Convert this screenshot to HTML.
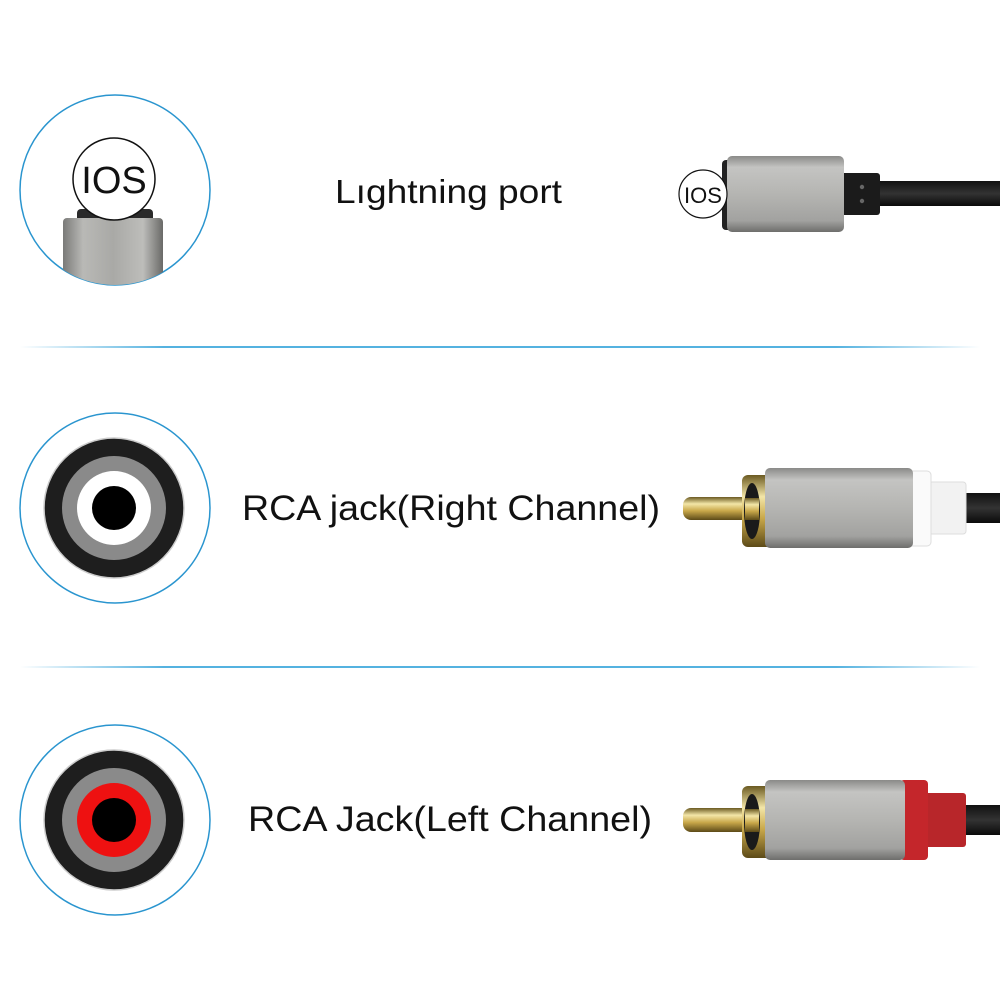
<!DOCTYPE html>
<html><head><style>
html,body{margin:0;padding:0;background:#fff;}
svg{display:block;}
text{font-family:"Liberation Sans",sans-serif;fill:#111;}
</style></head><body>
<svg width="1000" height="1000" viewBox="0 0 1000 1000" xmlns="http://www.w3.org/2000/svg">
<defs>
<linearGradient id="line" x1="0" x2="1">
<stop offset="0" stop-color="#2a9fd8" stop-opacity="0"/>
<stop offset="0.15" stop-color="#2a9fd8" stop-opacity="0.8"/>
<stop offset="0.85" stop-color="#2a9fd8" stop-opacity="0.8"/>
<stop offset="1" stop-color="#2a9fd8" stop-opacity="0"/>
</linearGradient>
<linearGradient id="metal" x1="0" y1="0" x2="0" y2="1">
<stop offset="0" stop-color="#8a8a88"/>
<stop offset="0.15" stop-color="#c4c4c2"/>
<stop offset="0.5" stop-color="#b5b5b2"/>
<stop offset="0.85" stop-color="#a2a2a0"/>
<stop offset="1" stop-color="#6e6e6c"/>
</linearGradient>
<linearGradient id="metalv" x1="0" y1="0" x2="1" y2="0">
<stop offset="0" stop-color="#7a7a78"/>
<stop offset="0.2" stop-color="#b9b9b6"/>
<stop offset="0.5" stop-color="#a9a9a6"/>
<stop offset="0.8" stop-color="#bdbdba"/>
<stop offset="1" stop-color="#6a6a68"/>
</linearGradient>
<linearGradient id="gold" x1="0" y1="0" x2="0" y2="1">
<stop offset="0" stop-color="#6b5a22"/>
<stop offset="0.3" stop-color="#f3e6a8"/>
<stop offset="0.6" stop-color="#c9a84a"/>
<stop offset="1" stop-color="#5c4a18"/>
</linearGradient>
<linearGradient id="cable" x1="0" y1="0" x2="0" y2="1">
<stop offset="0" stop-color="#111"/>
<stop offset="0.5" stop-color="#333"/>
<stop offset="1" stop-color="#0a0a0a"/>
</linearGradient>
<clipPath id="c1"><circle cx="115" cy="190" r="95"/></clipPath>
</defs>

<rect x="20" y="346" width="960" height="2" fill="url(#line)"/>
<rect x="20" y="666" width="960" height="2" fill="url(#line)"/>

<circle cx="115" cy="190" r="95" fill="#fff" stroke="#2a95cf" stroke-width="1.5"/>
<g clip-path="url(#c1)">
<rect x="77" y="209" width="76" height="14" rx="4" fill="#2a2a2a"/>
<rect x="63" y="218" width="100" height="90" rx="4" fill="url(#metalv)"/>
</g>
<circle cx="114" cy="179" r="41" fill="#fff" stroke="#111" stroke-width="1.5"/>
<text x="114" y="193" font-size="38" text-anchor="middle" style="font-weight:300">IOS</text>

<text x="335" y="203" font-size="33" textLength="227" lengthAdjust="spacingAndGlyphs">Lıghtning port</text>

<rect x="877" y="181" width="123" height="25" fill="url(#cable)"/>
<rect x="840" y="173" width="40" height="42" rx="3" fill="#1b1b1b"/>
<circle cx="862" cy="187" r="2.2" fill="#666"/>
<circle cx="862" cy="201" r="2.2" fill="#666"/>
<rect x="722" y="160" width="14" height="70" rx="4" fill="#222"/>
<rect x="727" y="156" width="117" height="76" rx="5" fill="url(#metal)"/>
<circle cx="703" cy="194" r="24" fill="#fff" stroke="#111" stroke-width="1.2"/>
<text x="703" y="203" font-size="22" text-anchor="middle" style="font-weight:300">IOS</text>

<circle cx="115" cy="508" r="95" fill="#fff" stroke="#2a95cf" stroke-width="1.5"/>
<circle cx="114" cy="508" r="70" fill="#1e1e1e" stroke="#ccc" stroke-width="1.5"/>
<circle cx="114" cy="508" r="52" fill="#8a8a8a"/>
<circle cx="114" cy="508" r="37" fill="#fff"/>
<circle cx="114" cy="508" r="22" fill="#000"/>
<text x="242" y="520" font-size="35" textLength="418" lengthAdjust="spacingAndGlyphs">RCA jack(Right Channel)</text>

<g transform="translate(0,508)">
<rect x="960" y="-15" width="40" height="30" fill="url(#cable)"/>
<rect x="928" y="-26" width="38" height="52" rx="3" fill="#f2f2f2" stroke="#ddd"/>
<rect x="903" y="-37" width="28" height="75" rx="4" fill="#fafafa" stroke="#ddd"/>
<rect x="683" y="-11" width="66" height="23" rx="8" fill="url(#gold)"/>
<rect x="742" y="-33" width="36" height="72" rx="6" fill="url(#gold)"/>
<ellipse cx="752" cy="3" rx="8" ry="28" fill="#1a1a1a"/>
<rect x="745" y="-10" width="14" height="22" fill="url(#gold)"/>
<rect x="765" y="-40" width="148" height="80" rx="5" fill="url(#metal)"/>
</g>

<circle cx="115" cy="820" r="95" fill="#fff" stroke="#2a95cf" stroke-width="1.5"/>
<circle cx="114" cy="820" r="70" fill="#1e1e1e" stroke="#ccc" stroke-width="1.5"/>
<circle cx="114" cy="820" r="52" fill="#8a8a8a"/>
<circle cx="114" cy="820" r="37" fill="#ee1111"/>
<circle cx="114" cy="820" r="22" fill="#000"/>
<text x="248" y="831" font-size="35" textLength="404" lengthAdjust="spacingAndGlyphs">RCA Jack(Left Channel)</text>

<g transform="translate(0,820)">
<rect x="960" y="-15" width="40" height="30" fill="url(#cable)"/>
<rect x="922" y="-27" width="44" height="54" rx="3" fill="#b8262a"/>
<rect x="900" y="-40" width="28" height="80" rx="4" fill="#c4262b"/>
<rect x="683" y="-12" width="66" height="24" rx="8" fill="url(#gold)"/>
<rect x="742" y="-34" width="36" height="72" rx="6" fill="url(#gold)"/>
<ellipse cx="752" cy="2" rx="8" ry="28" fill="#1a1a1a"/>
<rect x="745" y="-11" width="14" height="23" fill="url(#gold)"/>
<rect x="765" y="-40" width="140" height="80" rx="5" fill="url(#metal)"/>
</g>
</svg>
</body></html>
